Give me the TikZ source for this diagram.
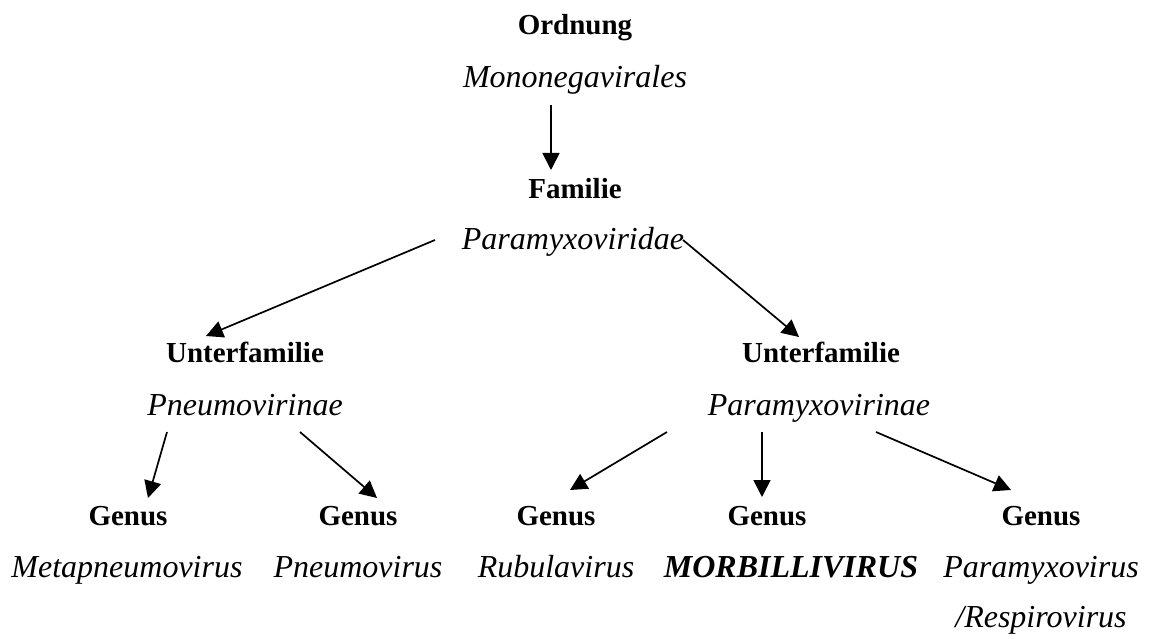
\documentclass[tikz,border=0pt]{standalone}
\usepackage{fontspec}
\setmainfont{Liberation Serif}
\usetikzlibrary{arrows.meta}
\tikzset{
  lbl/.style={anchor=base, inner sep=0pt},
  rank/.style={lbl, font=\fontsize{29}{34}\selectfont\bfseries},
  taxon/.style={lbl, font=\fontsize{32}{38}\selectfont\itshape},
  hilite/.style={lbl, font=\fontsize{32}{38}\selectfont\bfseries\itshape},
  arr/.style={line width=1.7pt, -{Triangle[length=17pt,width=17pt]}}
}
\begin{document}
\begin{tikzpicture}[x=1pt,y=-1pt]
\fill[white] (0,0) rectangle (1151,639);
\useasboundingbox (0,0) rectangle (1151,639);
% top
\node[rank]  (ord)  at (575,35)  {Ordnung};
\node[taxon] (mono) at (575,88)  {Mononegavirales};
\node[rank]  (famR) at (575,199) {Familie};
\node[taxon] (fam)  at (573,250) {Paramyxoviridae};
% subfamilies
\node[rank]  (ufL)  at (245,362) {Unterfamilie};
\node[taxon] (pnv)  at (245,415) {Pneumovirinae};
\node[rank]  (ufR)  at (821,362) {Unterfamilie};
\node[taxon] (pmv)  at (819,415) {Paramyxovirinae};
% genera
\node[rank]  (g1) at (128,525)  {Genus};
\node[taxon] (n1) at (127,577)  {Metapneumovirus};
\node[rank]  (g2) at (358,525)  {Genus};
\node[taxon] (n2) at (358,577)  {Pneumovirus};
\node[rank]  (g3) at (556,525)  {Genus};
\node[taxon] (n3) at (556,577)  {Rubulavirus};
\node[rank]  (g4) at (767,525)  {Genus};
\node[hilite] (n4) at (791,577) {MORBILLIVIRUS};
\node[rank]  (g5) at (1041,525) {Genus};
\node[taxon] (n5) at (1041,577) {Paramyxovirus};
\node[taxon] (n5b) at (1041,627) {/Respirovirus};
% arrows
\draw[arr] ([shift={(-24,17)}]mono.base) -- ([shift={(-24,-29)}]famR.base);
\draw[arr] ([shift={(-138,-10)}]fam.base) -- ([shift={(-39,-26)}]ufL.base);
\draw[arr] ([shift={(110,-10)}]fam.base) -- ([shift={(-22,-25)}]ufR.base);
\draw[arr] ([shift={(-78,17)}]pnv.base) -- ([shift={(20,-27)}]g1.base);
\draw[arr] ([shift={(55,17)}]pnv.base) -- ([shift={(19,-27)}]g2.base);
\draw[arr] ([shift={(-152,17)}]pmv.base) -- ([shift={(14,-35)}]g3.base);
\draw[arr] ([shift={(-57,17)}]pmv.base) -- ([shift={(-5,-28)}]g4.base);
\draw[arr] ([shift={(57,17)}]pmv.base) -- ([shift={(-30,-35)}]g5.base);
\end{tikzpicture}
\end{document}
